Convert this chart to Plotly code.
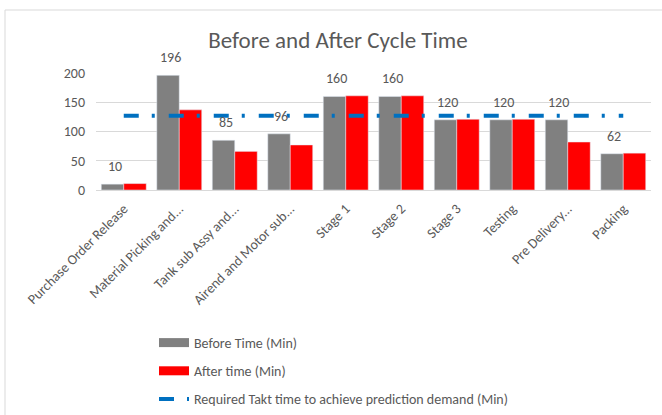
import plotly.graph_objects as go

categories = ["Purchase Order Release", "Material Picking and...", "Tank sub Assy and...",
              "Airend and Motor sub...", "Stage 1", "Stage 2", "Stage 3", "Testing",
              "Pre Delivery...", "Packing"]
before_time = [10, 196, 85, 96, 160, 160, 120, 120, 120, 62]
after_time = [11, 137, 66, 77, 161, 161, 121, 121, 82, 63]
takt_time = [127] * len(categories)
before_labels = ["10", "196", "85", "96", "160", "160", "120", "120", "120", "62"]

FONT = "Carlito, Calibri, Lato, sans-serif"
GREY_TXT = "#595959"
C_BEFORE, C_AFTER, C_TAKT = "#808080", "#FF0000", "#0070C0"
TAKT_DASH = "15px,13px,3px,14px"

W, H = 662, 415
L, R, T, B = 96, 11, 73, 225
pw, ph = W - L - R, H - T - B

def px_x(x):
    return (x - L) / pw

def px_y(y):
    return 1 - (y - T) / ph

fig = go.Figure()
fig.add_trace(go.Bar(
    x=categories, y=before_time, name="Before Time (Min)",
    marker_color=C_BEFORE, legendgroup="a", showlegend=False,
))
fig.add_trace(go.Bar(
    x=categories, y=after_time, name="After time (Min)",
    marker_color=C_AFTER, legendgroup="b", showlegend=False,
))
fig.add_trace(go.Scatter(
    x=categories, y=takt_time, mode="lines",
    name="Required Takt time to achieve prediction demand (Min)",
    line=dict(color=C_TAKT, width=4, dash=TAKT_DASH),
    legendgroup="c", showlegend=False,
))
# legend entries (wide swatches as in the original)
fig.add_trace(go.Scatter(x=[None], y=[None], mode="lines", name="Before Time (Min)",
                         line=dict(color=C_BEFORE, width=9), legendgroup="a"))
fig.add_trace(go.Scatter(x=[None], y=[None], mode="lines", name="After time (Min)",
                         line=dict(color=C_AFTER, width=9), legendgroup="b"))
fig.add_trace(go.Scatter(x=[None], y=[None], mode="lines",
                         name="Required Takt time to achieve prediction demand (Min)",
                         line=dict(color=C_TAKT, width=4, dash=TAKT_DASH), legendgroup="c"))

annotations = [
    dict(x=c, y=v, xref="x", yref="y", text=t, showarrow=False,
         xanchor="center", yanchor="bottom", xshift=-9, yshift=7,
         font=dict(family=FONT, size=14, color=GREY_TXT))
    for c, v, t in zip(categories, before_time, before_labels)
]

fig.update_layout(
    width=W, height=H,
    margin=dict(l=L, r=R, t=T, b=B, autoexpand=False),
    paper_bgcolor="white", plot_bgcolor="white",
    barmode="group", bargap=0.19, bargroupgap=0,
    font=dict(family=FONT, color=GREY_TXT, size=14),
    title=dict(text="Before and After Cycle Time", x=338 / W,
               xanchor="center", y=1 - 40 / H, yanchor="middle",
               font=dict(family=FONT, size=23, color=GREY_TXT)),
    xaxis=dict(tickangle=-45, showline=True, linecolor="#D9D9D9",
               tickfont=dict(family=FONT, size=14, color=GREY_TXT), ticks="",
               ticklabelstandoff=4),
    yaxis=dict(range=[0, 200], dtick=50, showgrid=True, gridcolor="#D9D9D9",
               zeroline=False, showline=False, ticks="",
               tickfont=dict(family=FONT, size=14, color=GREY_TXT),
               ticklabelstandoff=10),
    legend=dict(x=px_x(154), xanchor="left", y=px_y(327), yanchor="top",
                font=dict(family=FONT, size=14, color=GREY_TXT),
                tracegroupgap=7, itemwidth=30, bgcolor="rgba(0,0,0,0)"),
    annotations=annotations,
    shapes=[dict(type="rect", xref="paper", yref="paper",
                 x0=px_x(5), x1=px_x(700), y0=px_y(430), y1=px_y(10),
                 line=dict(color="#D9D9D9", width=1), layer="below")],
)

fig.write_html("out.html", config={"displayModeBar": False},
               post_script="document.body.style.margin='0';document.body.style.overflow='hidden';")
